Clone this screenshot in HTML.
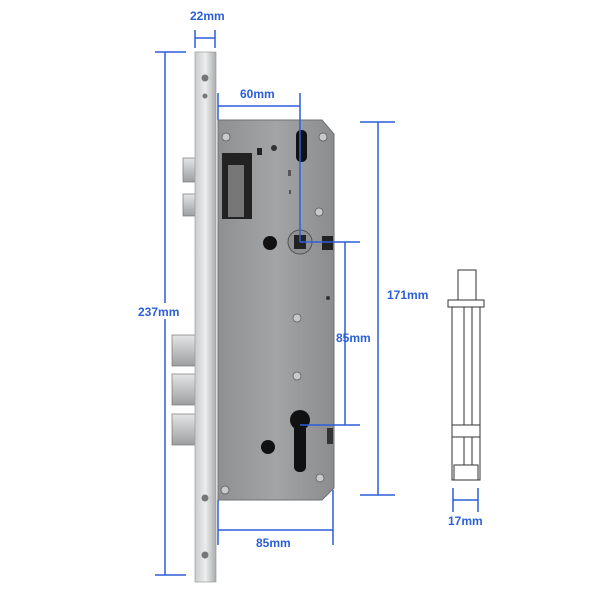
<!DOCTYPE html>
<html><head><style>body{margin:0;background:#fff}svg{display:block}text{font-family:"Liberation Sans",sans-serif;font-size:12px;fill:#2b5fd9;font-weight:bold}</style></head><body>
<svg width="600" height="600" viewBox="0 0 600 600">
<defs>
<linearGradient id="fp" x1="0" x2="1"><stop offset="0" stop-color="#c9cbcd"/><stop offset=".5" stop-color="#eceded"/><stop offset="1" stop-color="#a9abad"/></linearGradient>
<linearGradient id="cs" x1="0" x2="1"><stop offset="0" stop-color="#8e9092"/><stop offset=".5" stop-color="#a2a4a6"/><stop offset="1" stop-color="#8a8c8e"/></linearGradient>
<linearGradient id="bl" x1="0" y1="0" x2="0" y2="1"><stop offset="0" stop-color="#e4e5e6"/><stop offset="1" stop-color="#9c9ea0"/></linearGradient>
</defs>
<!-- case -->
<path d="M218 120 H322 L334 134 V488 L322 500 H218 Z" fill="url(#cs)" stroke="#6f7173"/>
<rect x="222" y="153" width="30" height="66" fill="#222"/>
<rect x="228" y="165" width="16" height="52" fill="#777"/>
<rect x="296" y="130" width="11" height="32" rx="5" fill="#111"/>
<rect x="257" y="148" width="5" height="7" fill="#222"/>
<circle cx="274" cy="148" r="3" fill="#333"/>
<rect x="288" y="170" width="3" height="6" fill="#555"/><rect x="289" y="190" width="2" height="4" fill="#555"/>
<circle cx="300" cy="242" r="12" fill="#8f9193" stroke="#555"/><rect x="294" y="235" width="12" height="14" fill="#222"/>
<circle cx="270" cy="243" r="7" fill="#111"/>
<rect x="322" y="236" width="11" height="14" fill="#222"/>
<circle cx="300" cy="420" r="10" fill="#111"/><rect x="294" y="420" width="12" height="52" rx="5" fill="#111"/>
<circle cx="268" cy="447" r="7" fill="#111"/>
<rect x="327" y="428" width="6" height="16" fill="#333"/>
<g fill="#c8c9ca" stroke="#555" stroke-width=".7"><circle cx="226" cy="137" r="4"/><circle cx="323" cy="137" r="4"/><circle cx="319" cy="212" r="4"/><circle cx="297" cy="318" r="4"/><circle cx="297" cy="376" r="4"/><circle cx="225" cy="490" r="4"/><circle cx="320" cy="478" r="4"/></g>
<circle cx="328" cy="298" r="2" fill="#333"/>
<!-- bolts -->
<rect x="183" y="158" width="26" height="24" fill="url(#bl)" stroke="#777" stroke-width=".7"/>
<rect x="183" y="194" width="26" height="22" fill="url(#bl)" stroke="#777" stroke-width=".7"/>
<rect x="172" y="335" width="38" height="31" fill="url(#bl)" stroke="#777" stroke-width=".7"/>
<rect x="172" y="374" width="38" height="31" fill="url(#bl)" stroke="#777" stroke-width=".7"/>
<rect x="172" y="414" width="38" height="31" fill="url(#bl)" stroke="#777" stroke-width=".7"/>
<!-- faceplate -->
<rect x="195" y="52" width="21" height="530" fill="url(#fp)" stroke="#9a9c9e" stroke-width=".7"/>
<g fill="#777"><circle cx="205" cy="78" r="3.5"/><circle cx="205" cy="96" r="2.5"/><circle cx="205" cy="498" r="3.5"/><circle cx="205" cy="555" r="3.5"/></g>
<!-- side view -->
<g fill="#fff" stroke="#333" stroke-width="1">
<rect x="458" y="270" width="18" height="30"/>
<rect x="448" y="300" width="36" height="7"/>
<rect x="452" y="307" width="28" height="173"/>
<line x1="464" y1="307" x2="464" y2="470"/><line x1="472" y1="307" x2="472" y2="470"/>
<rect x="452" y="425" width="28" height="12"/>
<rect x="454" y="465" width="24" height="15"/>
</g>
<!-- dims -->
<g stroke="#2b5fd9" stroke-width="1.5" fill="none">
<path d="M165 52V575M155 52H186M155 575H186"/>
<path d="M195 30V48M215 30V48M195 38H215"/>
<path d="M218 93V120M300 93V242M218 106H300"/>
<path d="M300 242H360M300 425H360M345 242V425"/>
<path d="M360 122H395M360 495H395M378 122V495"/>
<path d="M218 500V545M333 490V545M218 530H333"/>
<path d="M453 488V512M478 488V512M453 500H478"/>
</g>
<rect x="137" y="303" width="48" height="16" fill="#fff"/>
<text x="138" y="316">237mm</text>
<text x="190" y="20">22mm</text>
<text x="240" y="98">60mm</text>
<rect x="386" y="287" width="42" height="16" fill="#fff"/>
<text x="387" y="299">171mm</text>
<text x="336" y="342">85mm</text>
<text x="256" y="547">85mm</text>
<text x="448" y="525">17mm</text>
</svg>
</body></html>
